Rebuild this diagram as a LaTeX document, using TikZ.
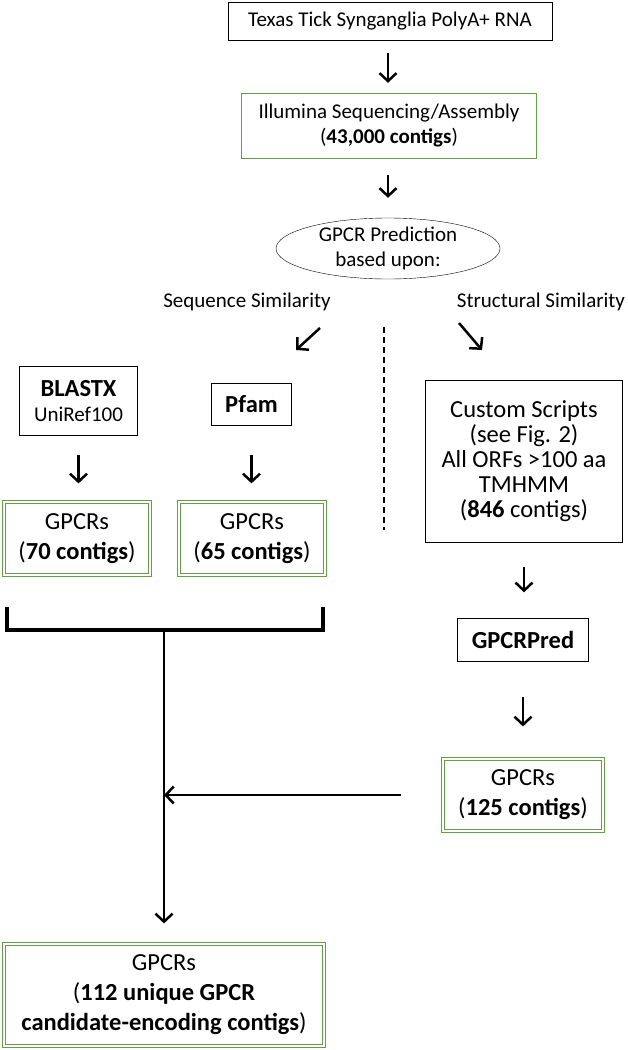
\documentclass[tikz,border=0pt]{standalone}
\usepackage{fontspec}
\setmainfont{Carlito}
\usepackage{xcolor}
\definecolor{Leaf Green}{HTML}{64A043}
\colorlet{cGreen}{Leaf Green}
\usepackage{tikz}
\usetikzlibrary{arrows.meta, positioning, shapes.geometric}
\tikzset{
	line width = 1.7pt,
	small/.style={font=\fontsize{21}{25}\selectfont},
	big/.style={font=\fontsize{24.5}{30}\selectfont},
	plainbox/.style={
		draw,
		rectangle,
		align=center,
		inner sep=0pt
	},
	greenbox/.style={
		plainbox,
		draw=cGreen
	},
	resultbox/.style={
		plainbox,
		draw=cGreen,
		double=white,
		double distance=1.8pt,
		line width=1.2pt
	},
	arr/.style={
		-{Straight Barb[length=8pt,width=17pt]},
		line width=2.5pt
	},
	bracket/.style={
		line width=3.2pt
	},
	divider/.style={
		dash pattern=on 6pt off 4pt,
		line width=1.2pt
	}
}

\begin{document}
\begin{tikzpicture}[x=1pt, y=1pt]
\useasboundingbox (0,0) rectangle (628,-1050);
% ---
% top of the pipeline
% ---
\node[plainbox, small, minimum width=324pt, minimum height=38pt] at (390,-21) (rna) {Texas Tick Synganglia PolyA+ RNA};
\node[greenbox, small, minimum width=295pt, minimum height=65pt] at (389,-125.5) (ill) {Illumina Sequencing/Assembly\\(\textbf{43,000 contigs})};
\node[draw, ellipse, small, align=center, inner sep=0pt, minimum width=224pt, minimum height=61pt] at (388,-248.5) (pred) {GPCR Prediction\\based upon:};

\node[small] at (247,-302) (seq) {Sequence Similarity};
\node[small] at (541,-302) (struc) {Structural Similarity};

\draw[arr, shorten <=13pt, shorten >=10pt] (rna.south -| pred) -- (pred |- ill.north);
\draw[arr, shorten <=17pt, shorten >=20pt] (ill.south -| pred) -- (pred.north);

\coordinate (sw-a) at (320,-328);
\coordinate (sw-b) at (296,-350);
\coordinate (se-a) at (459,-323);
\coordinate (se-b) at (482,-350);
\draw[arr] (sw-a) -- (sw-b);
\draw[arr] (se-a) -- (se-b);

\coordinate (dash-top) at (384,-327);
\coordinate (dash-bot) at (384,-530);
\draw[divider] (dash-top) -- (dash-bot);

% ---
% sequence similarity branch
% ---
\node[plainbox, small, minimum width=118pt, minimum height=69pt] at (78.5,-401) (blastx) {{\fontsize{24.5}{26}\selectfont\textbf{BLASTX}}\\UniRef100};
\node[plainbox, big, minimum width=80pt, minimum height=42pt] at (251.5,-404.5) (pfam) {\textbf{Pfam}};
\node[resultbox, big, minimum width=146pt, minimum height=73pt] at (77,-538.5) (g70) {GPCRs\\(\textbf{70 contigs})};
\node[resultbox, big, minimum width=146pt, minimum height=73pt] at (252,-538.5) (g65) {GPCRs\\(\textbf{65 contigs})};

\draw[arr, shorten <=19pt, shorten >=18pt] (blastx.south) -- (blastx.south |- g70.north);
\draw[arr, shorten <=29pt, shorten >=18pt] (pfam.south) -- (pfam.south |- g65.north);

% ---
% structural similarity branch
% ---
\node[plainbox, font=\fontsize{24.5}{25}\selectfont, minimum width=197pt, minimum height=162pt] at (524,-461.5) (custom) {Custom Scripts\\(see Fig. 2)\\All ORFs >100 aa\\TMHMM\\(\textbf{846} contigs)};
\node[plainbox, big, minimum width=131pt, minimum height=43pt] at (523,-640) (gpcrpred) {\textbf{GPCRPred}};
\node[resultbox, big, minimum width=160pt, minimum height=72pt] at (523,-795) (g125) {GPCRs\\(\textbf{125 contigs})};

\draw[arr, shorten <=24pt, shorten >=26pt] (custom.south) -- (custom.south |- gpcrpred.north);
\draw[arr, shorten <=35pt, shorten >=32pt] (gpcrpred.south) -- (g125.north);

% ---
% merge
% ---
\node[resultbox, big, minimum width=320pt, minimum height=102pt] at (164,-995) (final) {GPCRs\\(\textbf{112 unique GPCR}\\\textbf{candidate-encoding contigs})};

\coordinate (br-l) at (7,-607);
\coordinate (br-r) at (323,-607);
\coordinate (join) at (164,-630);
\draw[bracket] (br-l) |- (join) -| (br-r);
\draw[arr, shorten >=20pt] (join) -- (final.north);
\draw[arr, shorten <=41pt] (g125.west) -- (g125.west -| join);
\end{tikzpicture}
\end{document}
